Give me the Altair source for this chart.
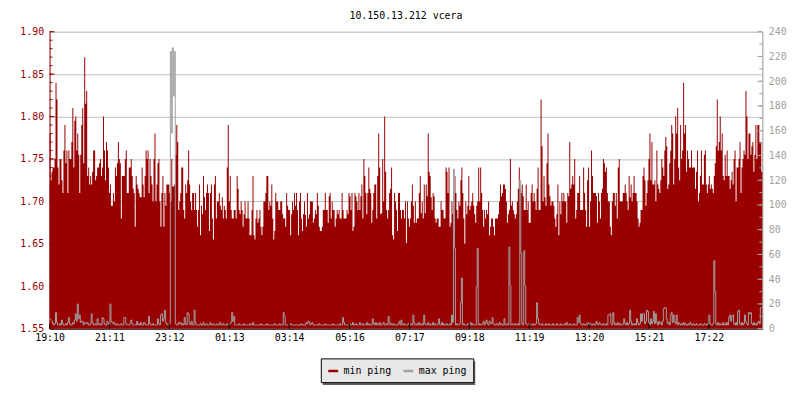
import json
import numpy as np
import pandas as pd
import altair as alt

FONT = "DejaVu Sans Mono"
RED = "#990000"
GRAY = "#A0A0A0"

TITLE = "10.150.13.212 vcera"
SERIES = ["min ping", "max ping"]
TIME_LABELS = ["19:10", "21:11", "23:12", "01:13", "03:14", "05:16",
               "07:17", "09:18", "11:19", "13:20", "15:21", "17:22"]
TICK_MIN = [0, 121, 242, 363, 484, 606, 727, 848, 969, 1090, 1211, 1332]
LEFT_TICKS = [1.55, 1.60, 1.65, 1.70, 1.75, 1.80, 1.85, 1.90]
RIGHT_TICKS = [0, 20, 40, 60, 80, 100, 120, 140, 160, 180, 200, 220, 240]

# min ping (left axis), one value per 2 minutes, 19:10 -> 19:10 next day
MIN_1 = [
    1.78, 1.725, 1.735, 1.74, 1.74, 1.75, 1.84, 1.82, 1.74, 1.72,
    1.75, 1.75, 1.725, 1.71, 1.76, 1.79, 1.745, 1.76, 1.71, 1.76,
    1.75, 1.75, 1.77, 1.81, 1.74, 1.795, 1.80, 1.76, 1.78, 1.755,
    1.71, 1.755, 1.79, 1.81, 1.745, 1.87, 1.815, 1.83, 1.73, 1.74,
    1.72, 1.73, 1.72, 1.735, 1.76, 1.76, 1.725, 1.73, 1.74, 1.74,
    1.745, 1.75, 1.73, 1.74, 1.80, 1.76, 1.725, 1.77, 1.76, 1.74,
    1.71, 1.72, 1.695, 1.695, 1.71, 1.70, 1.74, 1.73, 1.745, 1.77,
    1.75, 1.745, 1.68, 1.73, 1.73, 1.73, 1.75, 1.76, 1.71, 1.71,
    1.74, 1.74, 1.75, 1.73, 1.715, 1.71, 1.67, 1.73, 1.72, 1.715,
    1.71, 1.705, 1.705, 1.74, 1.72, 1.705, 1.73, 1.76, 1.75, 1.76,
    1.71, 1.75, 1.73, 1.72, 1.70, 1.75, 1.78, 1.70, 1.72, 1.745,
    1.75, 1.70, 1.67, 1.71, 1.73, 1.67, 1.71, 1.695, 1.72, 1.72,
    1.72, 1.71, 1.70, 1.75, 1.7175, 1.7175, 1.72, 1.755, 1.79, 1.77,
    1.69, 1.70, 1.71, 1.74, 1.74, 1.69, 1.68, 1.72, 1.71, 1.725,
    1.76, 1.72, 1.70, 1.69, 1.71, 1.71, 1.69, 1.71, 1.69, 1.67,
    1.69, 1.72, 1.66, 1.695, 1.685, 1.73, 1.705, 1.69, 1.71, 1.72,
    1.71, 1.665, 1.71, 1.72, 1.68, 1.655, 1.72, 1.73, 1.68, 1.70,
    1.70, 1.71, 1.695, 1.69, 1.705, 1.68, 1.695, 1.69, 1.68, 1.74,
]
MIN_2 = [
    1.79, 1.70, 1.73, 1.69, 1.68, 1.68, 1.69, 1.69, 1.68, 1.73,
    1.715, 1.69, 1.685, 1.70, 1.69, 1.67, 1.685, 1.70, 1.68, 1.68,
    1.70, 1.68, 1.66, 1.66, 1.69, 1.73, 1.66, 1.655, 1.68, 1.69,
    1.675, 1.68, 1.69, 1.67, 1.66, 1.67, 1.70, 1.70, 1.71, 1.73,
    1.73, 1.69, 1.70, 1.695, 1.72, 1.68, 1.655, 1.665, 1.71, 1.70,
    1.70, 1.69, 1.69, 1.70, 1.70, 1.685, 1.68, 1.68, 1.67, 1.71,
    1.695, 1.69, 1.69, 1.66, 1.685, 1.70, 1.69, 1.71, 1.695, 1.71,
    1.69, 1.66, 1.70, 1.71, 1.68, 1.665, 1.685, 1.70, 1.684, 1.67,
    1.71, 1.68, 1.685, 1.70, 1.70, 1.70, 1.675, 1.68, 1.69, 1.685,
    1.71, 1.695, 1.67, 1.665, 1.665, 1.67, 1.69, 1.69, 1.71, 1.69,
    1.69, 1.675, 1.706, 1.71, 1.68, 1.70, 1.69, 1.69, 1.67, 1.68,
    1.69, 1.685, 1.69, 1.68, 1.68, 1.71, 1.69, 1.68, 1.68, 1.68,
    1.69, 1.685, 1.71, 1.706, 1.69, 1.71, 1.665, 1.67, 1.71, 1.706,
    1.70, 1.69, 1.71, 1.69, 1.706, 1.72, 1.68, 1.75, 1.73, 1.71,
    1.685, 1.71, 1.74, 1.715, 1.71, 1.675, 1.69, 1.71, 1.72, 1.72,
    1.68, 1.73, 1.78, 1.74, 1.685, 1.686, 1.75, 1.70, 1.80, 1.735,
    1.69, 1.68, 1.69, 1.71, 1.715, 1.74, 1.66, 1.655, 1.71, 1.70,
    1.69, 1.665, 1.71, 1.71, 1.69, 1.68, 1.69, 1.69, 1.68, 1.70,
]
MIN_3 = [
    1.651, 1.70, 1.68, 1.67, 1.68, 1.70, 1.72, 1.695, 1.675, 1.70,
    1.675, 1.68, 1.68, 1.71, 1.73, 1.686, 1.70, 1.68, 1.72, 1.686,
    1.72, 1.706, 1.78, 1.735, 1.73, 1.705, 1.69, 1.71, 1.706, 1.68,
    1.675, 1.68, 1.68, 1.67, 1.67, 1.70, 1.69, 1.69, 1.68, 1.68,
    1.74, 1.735, 1.71, 1.74, 1.67, 1.675, 1.70, 1.685, 1.71, 1.73,
    1.71, 1.69, 1.68, 1.70, 1.695, 1.725, 1.74, 1.71, 1.68, 1.65,
    1.70, 1.685, 1.695, 1.73, 1.69, 1.695, 1.70, 1.71, 1.695, 1.685,
    1.675, 1.695, 1.70, 1.74, 1.70, 1.74, 1.71, 1.69, 1.67, 1.69,
    1.68, 1.69, 1.685, 1.70, 1.66, 1.67, 1.68, 1.68, 1.67, 1.66,
    1.68, 1.68, 1.68, 1.685, 1.70, 1.72, 1.706, 1.71, 1.72, 1.72,
    1.715, 1.70, 1.675, 1.685, 1.69, 1.75, 1.695, 1.70, 1.69, 1.685,
    1.68, 1.685, 1.70, 1.715, 1.74, 1.715, 1.71, 1.72, 1.706, 1.69,
    1.69, 1.72, 1.69, 1.70, 1.675, 1.675, 1.71, 1.72, 1.70, 1.71,
    1.70, 1.69, 1.715, 1.74, 1.69, 1.69, 1.82, 1.765, 1.70, 1.73,
    1.705, 1.695, 1.745, 1.78, 1.72, 1.706, 1.695, 1.70, 1.70, 1.695,
    1.68, 1.67, 1.685, 1.72, 1.66, 1.70, 1.685, 1.71, 1.70, 1.71,
    1.70, 1.70, 1.675, 1.71, 1.706, 1.77, 1.715, 1.72, 1.73, 1.72,
    1.75, 1.68, 1.69, 1.71, 1.71, 1.73, 1.69, 1.69, 1.69, 1.74,
]
MIN_4 = [
    1.71, 1.69, 1.67, 1.725, 1.74, 1.67, 1.70, 1.76, 1.73, 1.71,
    1.71, 1.71, 1.706, 1.675, 1.71, 1.70, 1.68, 1.71, 1.715, 1.75,
    1.745, 1.735, 1.74, 1.71, 1.70, 1.70, 1.67, 1.66, 1.70, 1.71,
    1.71, 1.695, 1.71, 1.68, 1.74, 1.75, 1.70, 1.70, 1.70, 1.71,
    1.71, 1.72, 1.71, 1.70, 1.69, 1.73, 1.705, 1.72, 1.70, 1.71,
    1.73, 1.71, 1.71, 1.70, 1.68, 1.67, 1.675, 1.69, 1.69, 1.73,
    1.74, 1.725, 1.695, 1.71, 1.725, 1.75, 1.78, 1.725, 1.77, 1.72,
    1.72, 1.725, 1.70, 1.76, 1.72, 1.715, 1.71, 1.725, 1.75, 1.74,
    1.73, 1.76, 1.776, 1.765, 1.715, 1.72, 1.745, 1.76, 1.79, 1.78,
    1.72, 1.75, 1.80, 1.78, 1.81, 1.74, 1.725, 1.79, 1.75, 1.76,
    1.84, 1.78, 1.79, 1.735, 1.76, 1.75, 1.74, 1.74, 1.76, 1.74,
    1.74, 1.74, 1.715, 1.735, 1.76, 1.70, 1.71, 1.73, 1.76, 1.72,
    1.72, 1.755, 1.76, 1.72, 1.71, 1.72, 1.73, 1.715, 1.72, 1.715,
    1.71, 1.73, 1.745, 1.765, 1.82, 1.76, 1.77, 1.80, 1.76, 1.78,
    1.73, 1.725, 1.755, 1.73, 1.76, 1.73, 1.73, 1.715, 1.725, 1.735,
    1.72, 1.75, 1.76, 1.70, 1.74, 1.74, 1.75, 1.77, 1.71, 1.74,
    1.75, 1.76, 1.755, 1.83, 1.80, 1.75, 1.78, 1.78, 1.755, 1.765,
    1.77, 1.735, 1.755, 1.79, 1.75, 1.79, 1.79, 1.77, 1.77, 1.735,
]
MIN_PING = MIN_1 + MIN_2 + MIN_3 + MIN_4

# max ping (right axis)
MAX_PING = [
    8, 7, 6, 4, 3, 4, 13, 5, 3, 3, 4, 3, 7, 4, 3, 3, 4, 3, 5, 9, 4, 3, 3, 5, 4, 7, 12, 6, 20, 8,
    11, 5, 6, 6, 3, 5, 5, 4, 5, 3, 3, 4, 12, 5, 3, 3, 4, 3, 8, 4, 3, 4, 3, 9, 8, 4, 3, 3, 6, 4,
    3, 20, 6, 5, 4, 5, 3, 3, 4, 3, 3, 3, 4, 3, 3, 9, 9, 4, 3, 3, 3, 4, 7, 4, 3, 3, 3, 3, 6, 3,
    4, 3, 5, 3, 3, 5, 4, 3, 3, 3, 10, 4, 3, 3, 4, 3, 3, 3, 3, 8, 4, 3, 11, 12, 6, 8, 15, 5, 4, 3,
    3, 4, 224, 158, 227, 188, 224, 4, 3, 3, 5, 4, 5, 3, 4, 3, 9, 4, 3, 13, 12, 4, 3, 6, 3, 3, 15, 5, 3, 3,
    3, 3, 4, 3, 3, 5, 3, 3, 4, 3, 3, 3, 5, 3, 3, 4, 3, 3, 3, 4, 3, 3, 5, 3, 3, 4, 3, 3, 3, 4,
    3, 3, 4, 5, 13, 6, 10, 3, 3, 3, 3, 4, 3, 3, 3, 3, 4, 3, 3, 3, 3, 3, 4, 3, 3, 5, 3, 3, 3, 3,
    3, 3, 3, 4, 3, 3, 3, 3, 3, 4, 3, 3, 3, 3, 3, 3, 3, 4, 3, 3, 3, 3, 4, 3, 3, 3, 13, 10, 3, 3,
    3, 3, 3, 4, 3, 3, 3, 3, 3, 3, 3, 3, 3, 3, 4, 3, 3, 3, 3, 5, 4, 6, 5, 3, 4, 5, 3, 3, 3, 3,
    3, 3, 4, 3, 3, 3, 3, 3, 4, 3, 3, 3, 3, 3, 3, 3, 4, 3, 3, 3, 3, 3, 3, 4, 3, 3, 9, 5, 3, 3,
    3, 3, 3, 4, 3, 3, 5, 3, 3, 4, 3, 3, 3, 5, 3, 3, 4, 3, 3, 3, 5, 3, 4, 3, 3, 3, 8, 4, 3, 5,
    3, 4, 3, 5, 3, 3, 4, 5, 3, 3, 4, 3, 10, 5, 3, 4, 3, 4, 3, 3, 3, 3, 4, 6, 3, 7, 3, 3, 4, 3,
    3, 3, 4, 3, 3, 4, 3, 11, 5, 3, 3, 4, 3, 5, 3, 3, 4, 3, 11, 4, 3, 3, 5, 3, 4, 3, 3, 5, 3, 4,
    3, 3, 4, 8, 3, 3, 5, 3, 4, 3, 3, 4, 3, 3, 4, 3, 11, 5, 129, 65, 3, 4, 3, 3, 4, 21, 41, 3, 4, 3,
    3, 3, 4, 3, 3, 5, 3, 4, 3, 3, 3, 34, 65, 3, 4, 3, 3, 4, 6, 3, 5, 7, 4, 3, 6, 5, 4, 9, 4, 3,
    3, 4, 3, 3, 5, 3, 4, 3, 3, 8, 3, 3, 4, 3, 66, 35, 3, 4, 3, 3, 4, 3, 3, 4, 3, 120, 61, 4, 3, 63,
    35, 4, 3, 3, 4, 3, 3, 3, 4, 3, 3, 4, 21, 8, 4, 3, 3, 4, 3, 3, 3, 4, 3, 3, 4, 3, 3, 3, 4, 3,
    3, 3, 4, 3, 3, 3, 4, 3, 3, 3, 4, 3, 5, 3, 3, 4, 3, 3, 3, 4, 3, 3, 3, 9, 5, 11, 4, 3, 3, 4,
    3, 3, 4, 3, 5, 3, 4, 3, 3, 4, 3, 3, 6, 4, 3, 5, 4, 3, 3, 4, 3, 3, 4, 3, 11, 11, 12, 4, 3, 13,
    5, 3, 4, 3, 5, 3, 4, 3, 3, 4, 8, 4, 3, 5, 3, 4, 15, 6, 3, 4, 3, 4, 3, 8, 5, 3, 4, 12, 6, 12,
    12, 4, 6, 15, 14, 5, 3, 8, 4, 6, 14, 4, 12, 5, 3, 6, 4, 5, 3, 6, 16, 17, 17, 8, 4, 5, 3, 11, 13, 5,
    11, 6, 4, 11, 3, 5, 4, 3, 4, 3, 5, 3, 4, 3, 3, 4, 3, 5, 3, 3, 4, 3, 3, 4, 3, 3, 3, 4, 3, 3,
    3, 4, 3, 3, 4, 3, 11, 4, 3, 3, 4, 55, 30, 4, 3, 5, 3, 4, 3, 3, 5, 3, 4, 3, 5, 3, 9, 11, 6, 10,
    11, 4, 3, 5, 3, 14, 15, 4, 3, 5, 3, 4, 11, 6, 4, 3, 13, 12, 13, 4, 3, 5, 3, 4, 3, 5, 6, 4, 17, 17,
]

t = list(np.arange(len(MIN_PING)) * 2)
df = pd.DataFrame({"t": t, "min": MIN_PING, "max": MAX_PING})
# close the last step at the right edge
df = pd.concat([df, pd.DataFrame({"t": [1440], "min": [MIN_PING[-1]], "max": [MAX_PING[-1]]})],
               ignore_index=True)

x_scale = alt.Scale(domain=[0, 1440], nice=False, zero=False)
yl_scale = alt.Scale(domain=[1.55, 1.90], nice=False, zero=False)
yr_scale = alt.Scale(domain=[0, 240], nice=False, zero=False)

x_axis = alt.Axis(
    values=TICK_MIN,
    labelExpr=f"{json.dumps(TIME_LABELS)}[indexof({json.dumps(TICK_MIN)}, datum.value)]",
    title=None, grid=False, ticks=False, domainColor="black", domainWidth=1,
    labelColor="black", labelPadding=4, labelFont=FONT, labelFontSize=10,
    labelFlush=False, labelOverlap=False,
)

def X(field):
    return alt.X(field, scale=x_scale, axis=x_axis)

area = alt.Chart(df).mark_area(interpolate="step-after", color=RED).encode(
    x=X("t:Q"),
    y=alt.Y("min:Q", scale=yl_scale, axis=alt.Axis(
        orient="left", values=LEFT_TICKS, format=".2f", title=None,
        grid=True, gridColor="#C0C0C0", gridWidth=1, ticks=False,
        domainColor=RED, domainWidth=1, labelColor=RED, labelPadding=6,
        labelFont=FONT, labelFontSize=10, labelFlush=False, labelOverlap=False)),
    y2=alt.datum(1.55),
)

line = alt.Chart(df).mark_line(interpolate="step-after", color=GRAY, strokeWidth=1).encode(
    x=X("t:Q"),
    y=alt.Y("max:Q", scale=yr_scale, axis=alt.Axis(
        orient="right", values=RIGHT_TICKS, format="d", title=None,
        grid=False, ticks=False, domainColor=GRAY, domainWidth=1,
        labelColor=GRAY, labelPadding=6, labelFont=FONT, labelFontSize=10,
        labelFlush=False, labelOverlap=False)),
)

# inward tick marks
left_minor = [round(v, 2) for v in np.arange(1.55, 1.9001, 0.01)]
right_minor = list(range(0, 241, 10))

lt_major = alt.Chart(pd.DataFrame({"v": LEFT_TICKS})).mark_rule(color=RED).encode(
    y=alt.Y("v:Q", scale=yl_scale, axis=None), x=alt.value(0), x2=alt.value(5))
lt_minor = alt.Chart(pd.DataFrame({"v": left_minor})).mark_rule(color=RED).encode(
    y=alt.Y("v:Q", scale=yl_scale, axis=None), x=alt.value(0), x2=alt.value(3))
rt_major = alt.Chart(pd.DataFrame({"v": RIGHT_TICKS})).mark_rule(color=GRAY).encode(
    y=alt.Y("v:Q", scale=yr_scale, axis=None), x=alt.value(715), x2=alt.value(720))
rt_minor = alt.Chart(pd.DataFrame({"v": right_minor})).mark_rule(color=GRAY).encode(
    y=alt.Y("v:Q", scale=yr_scale, axis=None), x=alt.value(717), x2=alt.value(720))
bt = alt.Chart(pd.DataFrame({"t": TICK_MIN})).mark_rule(color="black").encode(
    x=X("t:Q"), y=alt.value(295), y2=alt.value(300))

# legend shadow
shadow = alt.Chart(pd.DataFrame({"a": [0]})).mark_rect(color="#5F5F5F").encode(
    x=alt.value(276), x2=alt.value(430), y=alt.value(333), y2=alt.value(357))

NBSP = "\u00a0"
label_expr = (f"datum.value == {json.dumps(SERIES[1])} ? datum.label + '{NBSP}{NBSP}' : datum.label")
legend_layer = alt.Chart(pd.DataFrame({"series": SERIES, "t": [0, 0], "v": [1.55, 1.55]})).mark_line(
    strokeWidth=2.5).encode(
    x=X("t:Q"),
    y=alt.Y("v:Q", scale=yl_scale, axis=None),
    color=alt.Color("series:N", scale=alt.Scale(domain=SERIES, range=[RED, GRAY]),
                    legend=alt.Legend(
                        title=None, orient="none", legendX=274, legendY=330,
                        direction="horizontal", fillColor="#E8E8E8", strokeColor="black",
                        padding=6, labelFont=FONT, labelFontSize=10, labelColor="black",
                        symbolType="stroke", symbolSize=100, symbolStrokeWidth=2.5,
                        labelOffset=4, columnPadding=6, labelExpr=label_expr)),
)

chart = alt.layer(
    area, line, lt_major, lt_minor, rt_major, rt_minor, bt, shadow, legend_layer
).resolve_scale(y="independent").properties(
    width=720, height=300,
    autosize=alt.AutoSizeParams(type="none"),
    padding={"left": 42, "top": 22, "right": 30, "bottom": 62},
    title=alt.Title(TITLE, font=FONT, fontSize=10, fontWeight="normal", color="black",
                    offset=6, anchor="middle"),
).configure_view(stroke=None).configure(background="white")

chart.save("out.html", embed_options={"renderer": "svg", "actions": False})
